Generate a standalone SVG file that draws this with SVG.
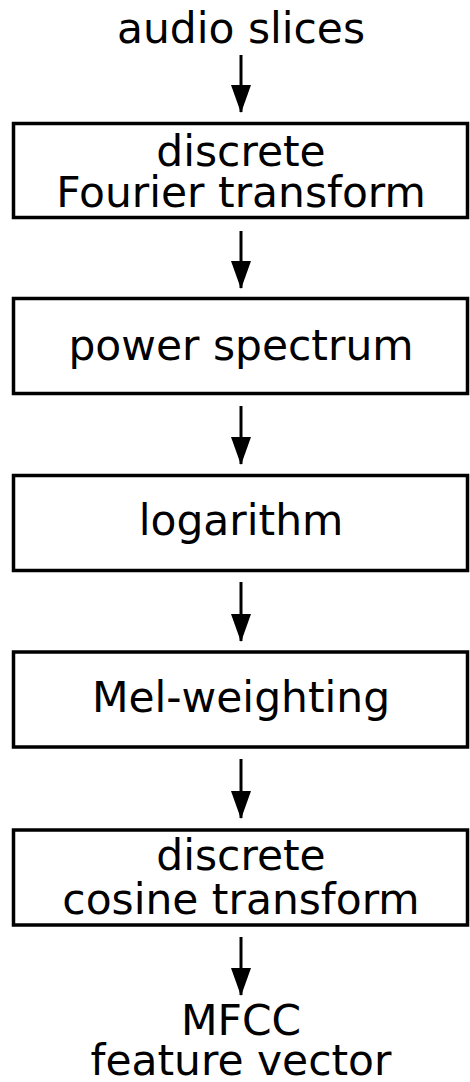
<svg xmlns="http://www.w3.org/2000/svg" width="470" height="1082" viewBox="0 0 470 1082">
  <style>
    text { font-family: "DejaVu Sans", "Liberation Sans", sans-serif; font-size: 42.4px; fill: #000; text-anchor: middle; }
    .box { fill: #fff; stroke: #000; stroke-width: 3.5; }
    .edge { stroke: #000; stroke-width: 3; fill: none; marker-end: url(#head); }
  </style>
  <defs>
    <!-- solid triangular arrowhead, drawn along +x so orient="auto" points it down the line -->
    <marker id="head" markerUnits="userSpaceOnUse" viewBox="0 0 28 20" refX="27" refY="10" markerWidth="28" markerHeight="20" orient="auto">
      <path d="M0,0 L28,10 L0,20 Z" fill="#000"/>
    </marker>
  </defs>
  <rect width="470" height="1082" fill="#fff"/>

  <!-- pipeline steps, top to bottom -->
  <g id="input">
    <text x="241" y="43">audio slices</text>
  </g>
  <g id="dft">
    <rect class="box" x="13.5" y="123.5" width="454" height="94"/>
    <text x="241" y="166">discrete</text>
    <text x="241" y="207">Fourier transform</text>
  </g>
  <g id="power">
    <rect class="box" x="13.5" y="298.5" width="454" height="95"/>
    <text x="241" y="360">power spectrum</text>
  </g>
  <g id="log">
    <rect class="box" x="13.5" y="475.5" width="454" height="95"/>
    <text x="241" y="535">logarithm</text>
  </g>
  <g id="mel">
    <rect class="box" x="13.5" y="652" width="454" height="95"/>
    <text x="241" y="712">Mel-weighting</text>
  </g>
  <g id="dct">
    <rect class="box" x="13.5" y="830" width="454" height="95"/>
    <text x="241" y="870">discrete</text>
    <text x="241" y="914">cosine transform</text>
  </g>
  <g id="output">
    <text x="241" y="1035">MFCC</text>
    <text x="241" y="1075">feature vector</text>
  </g>

  <!-- connectors -->
  <g id="edges">
    <line class="edge" x1="241" y1="55" x2="241" y2="112"/>
    <line class="edge" x1="241" y1="231" x2="241" y2="288"/>
    <line class="edge" x1="241" y1="406" x2="241" y2="464"/>
    <line class="edge" x1="241" y1="582" x2="241" y2="641"/>
    <line class="edge" x1="241" y1="759" x2="241" y2="818"/>
    <line class="edge" x1="241" y1="937" x2="241" y2="995"/>
  </g>
</svg>
